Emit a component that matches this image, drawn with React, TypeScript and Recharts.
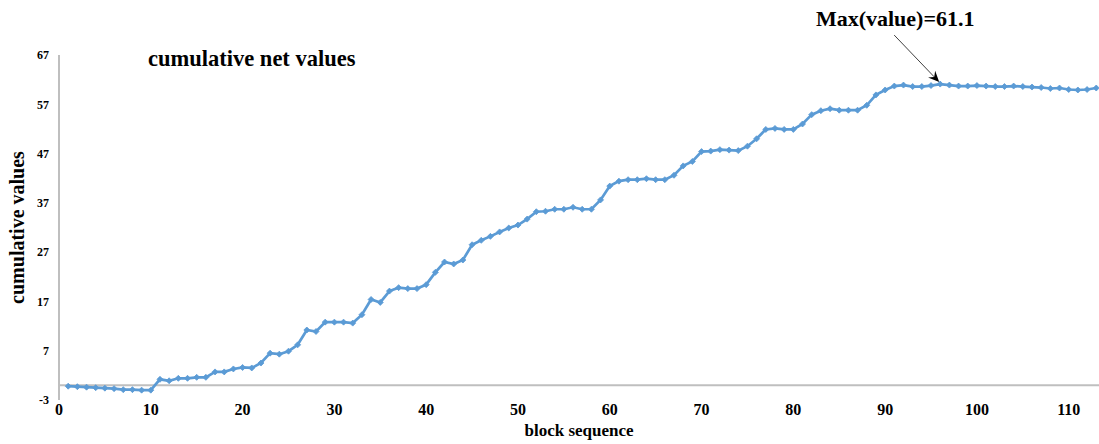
import React from 'react';
import { LineChart, Line, XAxis, YAxis, ReferenceLine, ReferenceDot } from 'recharts';

const blocks: number[] = Array.from({ length: 113 }, (_, i) => i + 1);
const netValues: number[] = [
  -0.2, -0.3, -0.4, -0.5, -0.6, -0.7, -0.9, -0.9, -1.0, -1.0,
  1.2, 0.9, 1.4, 1.4, 1.6, 1.6, 2.7, 2.7, 3.3, 3.6,
  3.5, 4.5, 6.5, 6.3, 6.9, 8.2, 11.2, 10.9, 12.8, 12.8,
  12.8, 12.6, 14.3, 17.4, 16.8, 19.1, 19.8, 19.6, 19.6, 20.4,
  22.9, 25.0, 24.6, 25.4, 28.5, 29.4, 30.2, 31.1, 31.9, 32.5,
  33.7, 35.2, 35.3, 35.7, 35.7, 36.1, 35.7, 35.7, 37.6, 40.4,
  41.4, 41.7, 41.7, 41.9, 41.7, 41.7, 42.6, 44.5, 45.4, 47.4,
  47.5, 47.8, 47.7, 47.6, 48.5, 50.0, 51.9, 52.1, 51.9, 51.9,
  53.0, 54.9, 55.7, 56.1, 55.8, 55.8, 55.8, 56.8, 58.9, 59.9,
  60.7, 60.9, 60.6, 60.6, 60.8, 61.1, 60.9, 60.7, 60.7, 60.8,
  60.7, 60.6, 60.6, 60.7, 60.6, 60.5, 60.4, 60.2, 60.3, 60.0,
  59.9, 60.0, 60.3,
];
const xTicks: number[] = [0, 10, 20, 30, 40, 50, 60, 70, 80, 90, 100, 110];
const yTicks: number[] = [-3, 7, 17, 27, 37, 47, 57, 67];
const maxBlock = 96;
const maxValue = 61.1;

const data = blocks.map((b, i) => ({ x: b, v: netValues[i] }));

const BLUE = '#5B9BD5';
const GRAY = '#BFBFBF';
const FONT = '"Liberation Serif", "Times New Roman", serif';

const Diamond = (props: any) => {
  const { cx, cy } = props;
  if (cx == null || cy == null) return null;
  const s = 3;
  return (
    <path
      d={`M${cx},${cy - s} L${cx + s},${cy} L${cx},${cy + s} L${cx - s},${cy} Z`}
      fill={BLUE}
      stroke={BLUE}
      strokeWidth={0.8}
    />
  );
};

const MaxMarker = (props: any) => {
  const { cx, cy } = props;
  if (cx == null || cy == null) return null;
  const sx = cx - 46;
  const sy = cy - 49;
  const tx = cx - 1;
  const ty = cy - 2;
  const ang = Math.atan2(ty - sy, tx - sx);
  const L = 12;
  const W = 0.42;
  const p1x = tx - L * Math.cos(ang - W);
  const p1y = ty - L * Math.sin(ang - W);
  const p2x = tx - L * Math.cos(ang + W);
  const p2y = ty - L * Math.sin(ang + W);
  const mx = tx - L * 0.6 * Math.cos(ang);
  const my = ty - L * 0.6 * Math.sin(ang);
  return (
    <g>
      <line x1={sx} y1={sy} x2={mx} y2={my} stroke="#404040" strokeWidth={1} />
      <path d={`M${tx},${ty} L${p1x},${p1y} L${mx},${my} L${p2x},${p2y} Z`} fill="#000" />
      <text
        x={cx - 45}
        y={cy - 58}
        textAnchor="middle"
        fontFamily={FONT}
        fontWeight="bold"
        fontSize={22}
        fill="#000"
      >
        {`Max(value)=${maxValue}`}
      </text>
    </g>
  );
};

export default function App() {
  return (
    <div
      style={{
        position: 'fixed',
        left: 0,
        top: 0,
        width: 1099,
        height: 444,
        overflow: 'hidden',
        background: '#fff',
      }}
    >
      <LineChart
        width={1099}
        height={444}
        data={data}
        margin={{ top: 55, right: 0, bottom: 0, left: 0 }}
      >
        <XAxis
          type="number"
          dataKey="x"
          domain={[0, 113.3]}
          ticks={xTicks}
          allowDataOverflow
          axisLine={false}
          tickLine={false}
          tickSize={0}
          tickMargin={4}
          height={44}
          interval={0}
          tick={{ fontFamily: FONT, fontWeight: 'bold', fontSize: 16, fill: '#000' }}
          label={{
            value: 'block sequence',
            position: 'insideBottom',
            offset: 8,
            style: { fontFamily: FONT, fontWeight: 'bold', fontSize: 17, fill: '#000' },
          }}
        />
        <YAxis
          type="number"
          domain={[-3, 67]}
          ticks={yTicks}
          interval={0}
          width={59}
          axisLine={{ stroke: GRAY, strokeWidth: 2 }}
          tickLine={false}
          tickSize={0}
          tickMargin={10}
          tick={{ fontFamily: FONT, fontWeight: 'bold', fontSize: 12, fill: '#000' }}
          label={{
            value: 'cumulative values',
            angle: -90,
            position: 'insideLeft',
            offset: 17,
            style: { fontFamily: FONT, fontWeight: 'bold', fontSize: 20, fill: '#000', textAnchor: 'middle' },
          }}
        />
        <ReferenceLine y={0} stroke={GRAY} strokeWidth={2} />
        <Line
          type="linear"
          dataKey="v"
          stroke={BLUE}
          strokeWidth={2.7}
          dot={<Diamond />}
          activeDot={false}
          isAnimationActive={false}
        />
        <ReferenceDot
          x={maxBlock}
          y={maxValue}
          ifOverflow="visible"
          shape={<MaxMarker />}
        />
      </LineChart>
      <div
        style={{
          position: 'absolute',
          left: 148,
          top: 46,
          fontFamily: FONT,
          fontWeight: 'bold',
          fontSize: 22.5,
          lineHeight: '26px',
          color: '#000',
          whiteSpace: 'nowrap',
        }}
      >
        cumulative net values
      </div>
    </div>
  );
}
